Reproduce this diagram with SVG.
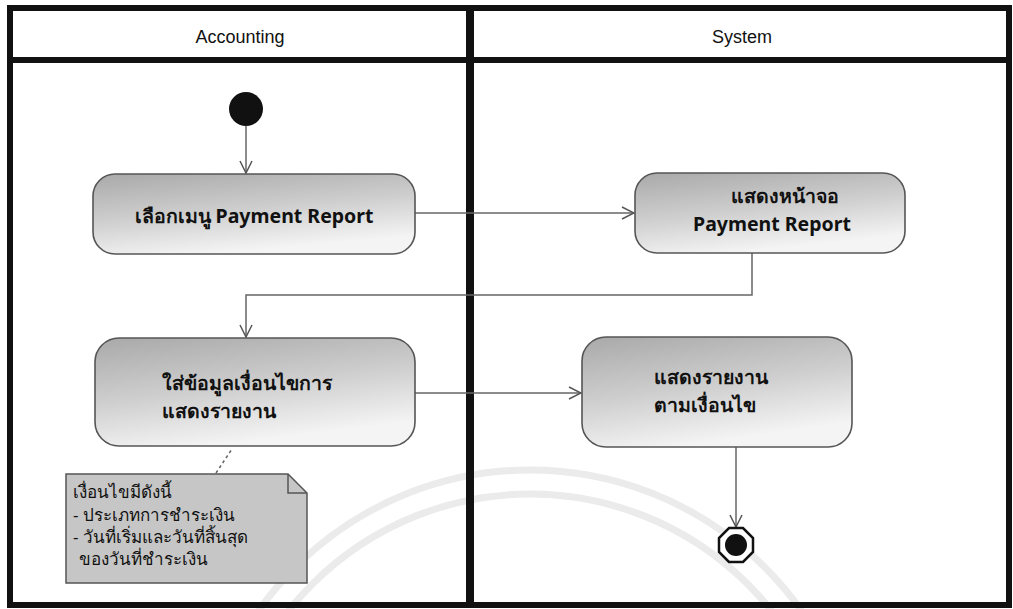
<svg xmlns="http://www.w3.org/2000/svg" width="1013" height="609" viewBox="0 0 1013 609">
<defs>
<linearGradient id="ng" x1="0" y1="0" x2="0.35" y2="1">
<stop offset="0" stop-color="#a9a9a9"/>
<stop offset="0.55" stop-color="#cfcfcf"/>
<stop offset="1" stop-color="#f4f4f4"/>
</linearGradient>
<marker id="arr" viewBox="0 0 14 14" refX="13" refY="7" markerWidth="14" markerHeight="14" markerUnits="userSpaceOnUse" orient="auto">
<path d="M1,1 L13,7 L1,13" fill="none" stroke="#555" stroke-width="1.5"/>
</marker>
</defs>
<style>
.frame{fill:none;stroke:#111;stroke-width:6}
.hdr{font-family:"Liberation Sans",Arial,sans-serif;font-size:18px;fill:#111;text-anchor:middle}
.node{fill:url(#ng);stroke:#555;stroke-width:1.6}
.nt{font-family:"Noto Sans","DejaVu Sans","Liberation Sans",sans-serif;font-size:19.5px;font-weight:bold;fill:#111}
.conn{fill:none;stroke:#666;stroke-width:1.5}
.note{fill:#c6c6c6;stroke:#555;stroke-width:1.5}
.notet{font-family:"Noto Sans","DejaVu Sans","Liberation Sans",sans-serif;font-size:17px;fill:#111}
.wm{fill:none;stroke:#ebebeb;stroke-width:7}
</style>
<rect x="0" y="0" width="1013" height="609" fill="#ffffff"/>
<g id="watermark">
<circle class="wm" cx="530" cy="802" r="332"/>
<circle class="wm" cx="530" cy="802" r="308"/>
</g>
<g id="swimlanes">
<rect class="frame" x="10" y="8" width="999" height="597"/>
<line x1="10" y1="60" x2="1009" y2="60" stroke="#111" stroke-width="6"/>
<line x1="470" y1="8" x2="470" y2="605" stroke="#111" stroke-width="8"/>
<text class="hdr" x="240" y="43">Accounting</text>
<text class="hdr" x="742" y="43">System</text>
</g>
<g id="connectors">
<line class="conn" x1="246" y1="126" x2="246" y2="173" marker-end="url(#arr)"/>
<line class="conn" x1="415" y1="213" x2="634" y2="213" marker-end="url(#arr)"/>
<polyline class="conn" points="752,253 752,295 246,295 246,337" marker-end="url(#arr)"/>
<line class="conn" x1="415" y1="393" x2="581" y2="393" marker-end="url(#arr)"/>
<line class="conn" x1="736" y1="447" x2="736" y2="527" marker-end="url(#arr)"/>
<line x1="216" y1="473" x2="232" y2="449" stroke="#666" stroke-width="1.5" stroke-dasharray="3,3"/>
</g>
<g id="start">
<circle cx="246" cy="109" r="17" fill="#111"/>
</g>
<g id="n1">
<rect class="node" x="93" y="174" width="322" height="80" rx="22"/>
<text class="nt" x="254" y="223" text-anchor="middle">เลือกเมนู Payment Report</text>
</g>
<g id="n2">
<rect class="node" x="635" y="173" width="270" height="80" rx="22"/>
<text class="nt" x="785" y="203" text-anchor="middle">แสดงหน้าจอ</text>
<text class="nt" x="772" y="231" text-anchor="middle">Payment Report</text>
</g>
<g id="n3">
<rect class="node" x="95" y="338" width="320" height="108" rx="24"/>
<text class="nt" x="162" y="390">ใส่ข้อมูลเงื่อนไขการ</text>
<text class="nt" x="162" y="418">แสดงรายงาน</text>
</g>
<g id="n4">
<rect class="node" x="582" y="337" width="270" height="110" rx="24"/>
<text class="nt" x="654" y="384">แสดงรายงาน</text>
<text class="nt" x="654" y="412">ตามเงื่อนไข</text>
</g>
<g id="end">
<polygon points="729,528 743,528 753,538 753,552 743,562 729,562 719,552 719,538" fill="#fff" stroke="#111" stroke-width="2.5"/>
<circle cx="736" cy="545" r="11" fill="#111"/>
</g>
<g id="note">
<path class="note" d="M66,474 H288 L307,493 V583 H66 Z"/>
<path d="M288,474 V493 H307" fill="none" stroke="#555" stroke-width="1.5"/>
<text class="notet" x="73" y="498">เงื่อนไขมีดังนี้</text>
<text class="notet" x="73" y="521">- ประเภทการชำระเงิน</text>
<text class="notet" x="73" y="543">- วันที่เริ่มและวันที่สิ้นสุด</text>
<text class="notet" x="79" y="565">ของวันที่ชำระเงิน</text>
</g>
</svg>
